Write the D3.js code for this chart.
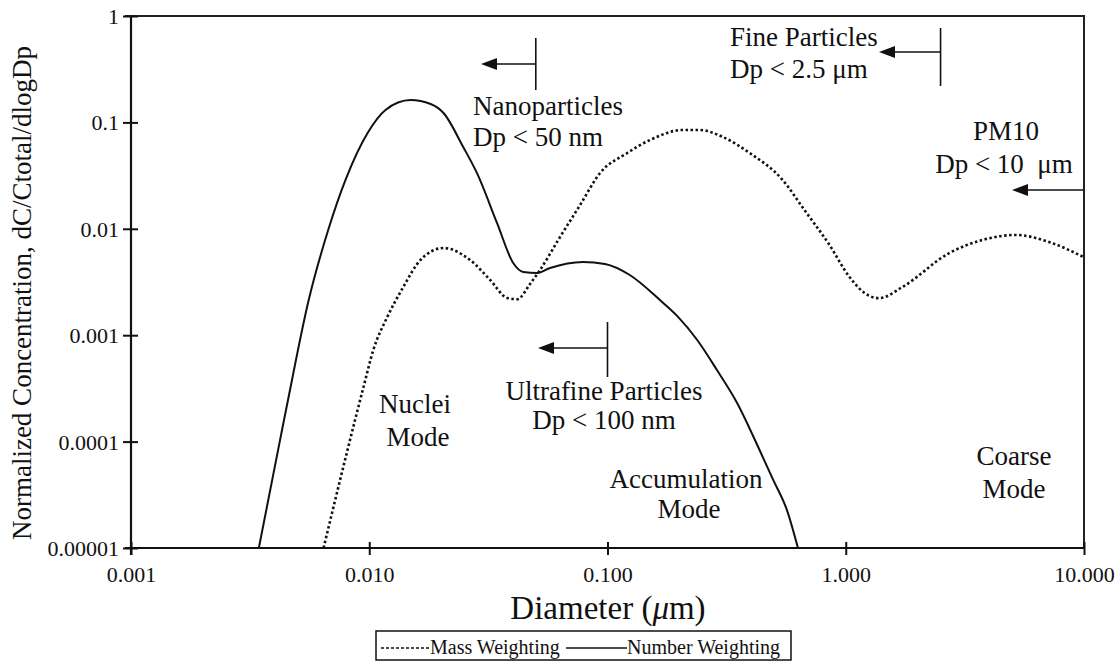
<!DOCTYPE html>
<html>
<head>
<meta charset="utf-8">
<script src="https://cdn.jsdelivr.net/npm/d3@7"></script>
<style>
  body { margin: 0; background: #fff; }
  svg text { font-family: "Liberation Serif", "Times New Roman", serif; fill: #111; }
</style>
</head>
<body>
<svg id="chart" width="1120" height="666"></svg>
<script>
// number weighting (solid)
const numberDiam = [0.00344, 0.00421, 0.00456, 0.00557, 0.00675, 0.00795, 0.00984, 0.0117, 0.0149, 0.0181, 0.0205,
  0.0248, 0.0283, 0.0344, 0.0402, 0.0443, 0.0507, 0.0574, 0.0788, 0.0976, 0.124, 0.166, 0.196, 0.238, 0.288,
  0.350, 0.429, 0.496, 0.566, 0.630]
const numberValue = [0.00001, 0.0001, 0.000246, 0.00214, 0.0100, 0.0288, 0.0795, 0.131, 0.162, 0.149, 0.1226,
  0.0587, 0.0335, 0.0113, 0.00477, 0.00393, 0.00384, 0.00428, 0.00488, 0.00467, 0.00368, 0.00214, 0.00152, 0.000901, 0.000471,
  0.000231, 0.000089, 0.0000436, 0.0000228, 0.00001]

// mass weighting (dotted)
const massDiam = [0.00643, 0.0081, 0.00946, 0.0104, 0.0119, 0.0139, 0.0164, 0.0205, 0.0265, 0.0322, 0.0379, 0.0418,
  0.0473, 0.0521, 0.0621, 0.0767, 0.0931, 0.121, 0.151, 0.207, 0.244, 0.305, 0.395, 0.543, 0.671, 0.855,
  1.037, 1.257, 1.384, 1.729, 2.72, 3.74, 5.19, 7.13, 10]
const massValue = [0.00001, 0.000083, 0.000326, 0.000726, 0.00148, 0.00284, 0.00509, 0.0066, 0.00509, 0.0033, 0.00224, 0.00218,
  0.00303, 0.0041, 0.00785, 0.0167, 0.0335, 0.0516, 0.0684, 0.0849, 0.0849, 0.0729, 0.0516, 0.0288, 0.015, 0.00704,
  0.00352, 0.00234, 0.00223, 0.00284, 0.00592, 0.00785, 0.00875, 0.00751, 0.0054]

const xTicks = [0.001, 0.01, 0.1, 1, 10]
const xTickLabels = ['0.001', '0.010', '0.100', '1.000', '10.000']
const yTicks = [1, 0.1, 0.01, 0.001, 0.0001, 0.00001]
const yTickLabels = ['1', '0.1', '0.01', '0.001', '0.0001', '0.00001']

const plotLeft = 131, plotRight = 1084, plotTop = 16, plotBottom = 548

const svg = d3.select('#chart')

const x = d3.scaleLog().domain([0.001, 10]).range([plotLeft, plotRight])
const y = d3.scaleLog().domain([0.00001, 1]).range([plotBottom, plotTop])

svg.append('clipPath').attr('id', 'plot')
  .append('rect').attr('x', plotLeft).attr('y', plotTop)
  .attr('width', plotRight - plotLeft).attr('height', plotBottom - plotTop)

// frame
svg.append('path')
  .attr('d', `M${plotLeft - 6},${plotTop}H${plotRight}V${plotBottom}`)
  .attr('fill', 'none').attr('stroke', '#222').attr('stroke-width', 2)

// y axis
const yAxis = svg.append('g')
  .attr('transform', `translate(${plotLeft},0)`)
  .call(d3.axisLeft(y).tickValues(yTicks).tickFormat((d, i) => yTickLabels[i]))
yAxis.select('.domain').remove()
yAxis.selectAll('.tick line').attr('x1', -8).attr('x2', 7).attr('stroke', '#111').attr('stroke-width', 2)
yAxis.selectAll('.tick text').attr('x', -12).attr('dy', '0.34em')
  .style('font-size', '22px').style('font-family', '"Liberation Serif", serif').attr('fill', '#111')
svg.append('line').attr('x1', plotLeft).attr('x2', plotLeft).attr('y1', plotTop).attr('y2', plotBottom + 7)
  .attr('stroke', '#111').attr('stroke-width', 2.2)

// x axis
const xAxis = svg.append('g')
  .attr('transform', `translate(0,${plotBottom})`)
  .call(d3.axisBottom(x).tickValues(xTicks).tickFormat((d, i) => xTickLabels[i]))
xAxis.select('.domain').remove()
xAxis.selectAll('.tick line').attr('y1', -6).attr('y2', 7).attr('stroke', '#111').attr('stroke-width', 2)
xAxis.selectAll('.tick text').attr('y', 34).attr('dy', 0)
  .style('font-size', '22px').style('font-family', '"Liberation Serif", serif').attr('fill', '#111')
svg.append('line').attr('x1', plotLeft - 6).attr('x2', plotRight).attr('y1', plotBottom).attr('y2', plotBottom)
  .attr('stroke', '#111').attr('stroke-width', 2.2)

// axis titles
const xTitle = svg.append('text')
  .attr('x', 608).attr('y', 619).attr('text-anchor', 'middle')
  .style('font-size', '33px')
xTitle.append('tspan').text('Diameter (')
xTitle.append('tspan').style('font-style', 'italic').text('μ')
xTitle.append('tspan').text('m)')

svg.append('text')
  .attr('transform', 'translate(31,293) rotate(-90)')
  .attr('text-anchor', 'middle')
  .style('font-size', '27px')
  .text('Normalized Concentration, dC/Ctotal/dlogDp')

// curves
const line = d3.line()
  .x(d => x(d[0]))
  .y(d => y(d[1]))
  .curve(d3.curveMonotoneX)

const curves = svg.append('g').attr('clip-path', 'url(#plot)')

curves.append('path')
  .datum(massDiam.map((d, i) => [d, massValue[i]]))
  .attr('d', line)
  .attr('fill', 'none').attr('stroke', '#111').attr('stroke-width', 2.6)
  .attr('stroke-dasharray', '2.5,2.5')

curves.append('path')
  .datum(numberDiam.map((d, i) => [d, numberValue[i]]))
  .attr('d', line)
  .attr('fill', 'none').attr('stroke', '#111').attr('stroke-width', 2)

// size-limit markers: bar at the cut size, arrow pointing to smaller sizes
function marker(xb, yb1, yb2, ya, tip) {
  if (yb1 != null) {
    svg.append('line').attr('x1', xb).attr('x2', xb).attr('y1', yb1).attr('y2', yb2)
      .attr('stroke', '#111').attr('stroke-width', 1.6)
  }
  svg.append('line').attr('x1', xb).attr('x2', tip + 12).attr('y1', ya).attr('y2', ya)
    .attr('stroke', '#111').attr('stroke-width', 1.6)
  svg.append('path')
    .attr('d', `M${tip},${ya}L${tip + 16},${ya - 6}L${tip + 16},${ya + 6}Z`)
    .attr('fill', '#111')
}
marker(x(0.05), 38, 90, 64, 481)
marker(x(2.5), 28, 86, 52, 879)
marker(x(0.1), 322, 377, 348, 538)
marker(x(10) - 1, null, null, 190, 1012)

// labels
const notes = [
  ['Nanoparticles', 473, 115, 'start'],
  ['Dp < 50 nm', 473, 146, 'start'],
  ['Fine Particles', 730, 46, 'start'],
  ['Dp < 2.5 μm', 730, 78, 'start'],
  ['PM10', 1006, 140, 'middle'],
  ['Dp < 10  μm', 1004, 173, 'middle'],
  ['Ultrafine Particles', 604, 400, 'middle'],
  ['Dp < 100 nm', 604, 429, 'middle'],
  ['Nuclei', 415, 413, 'middle'],
  ['Mode', 418, 446, 'middle'],
  ['Accumulation', 686, 488, 'middle'],
  ['Mode', 689, 518, 'middle'],
  ['Coarse', 1014, 465, 'middle'],
  ['Mode', 1014, 498, 'middle']
]
svg.append('g')
  .selectAll('text')
  .data(notes)
  .join('text')
  .attr('x', d => d[1])
  .attr('y', d => d[2])
  .attr('text-anchor', d => d[3])
  .style('font-size', '27px')
  .style('white-space', 'pre')
  .text(d => d[0])

// legend
const legend = svg.append('g')
legend.append('rect').attr('x', 376).attr('y', 631).attr('width', 415).attr('height', 29)
  .attr('fill', '#fff').attr('stroke', '#111').attr('stroke-width', 1.5)
legend.append('line').attr('x1', 381).attr('x2', 429).attr('y1', 648).attr('y2', 648)
  .attr('stroke', '#111').attr('stroke-width', 1.5).attr('stroke-dasharray', '3,2')
legend.append('text').attr('x', 430).attr('y', 654).style('font-size', '20px').text('Mass Weighting')
legend.append('line').attr('x1', 566).attr('x2', 627).attr('y1', 648).attr('y2', 648)
  .attr('stroke', '#111').attr('stroke-width', 1.5)
legend.append('text').attr('x', 627).attr('y', 654).style('font-size', '20px').text('Number Weighting')
</script>
</body>
</html>
